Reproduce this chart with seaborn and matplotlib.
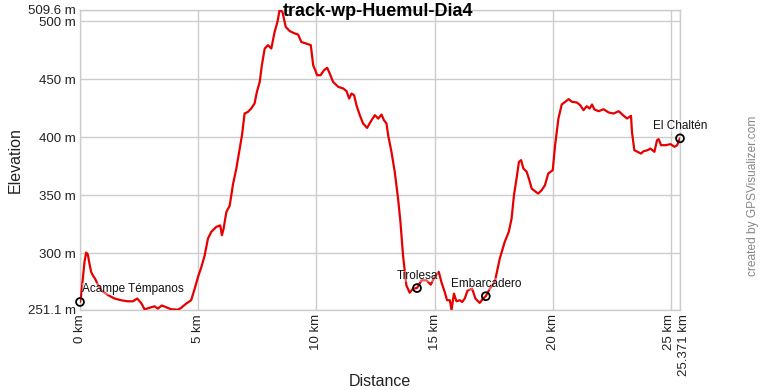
import matplotlib
matplotlib.use("Agg")
import matplotlib.pyplot as plt
import matplotlib.transforms as mtransforms
import seaborn as sns
import pandas as pd

# ---- data ----
dist_km = [0.0, 0.05, 0.19, 0.26, 0.33, 0.40, 0.47, 0.54, 0.64, 0.73, 0.90, 1.18, 1.46, 1.74,
           2.02, 2.24, 2.42, 2.59, 2.73, 2.94, 3.15, 3.29, 3.46, 3.65, 3.86, 4.14, 4.28, 4.49,
           4.70, 4.85, 4.99, 5.13, 5.27, 5.41, 5.55, 5.76, 5.93, 6.00, 6.07, 6.19, 6.33, 6.47,
           6.61, 6.75, 6.85, 6.96, 7.10, 7.24, 7.38, 7.48, 7.60, 7.69, 7.81, 7.95, 8.09, 8.23,
           8.35, 8.44, 8.56, 8.70, 8.87, 9.08, 9.22, 9.36, 9.57, 9.76, 9.86, 10.03, 10.17, 10.32,
           10.45, 10.56, 10.70, 10.92, 11.13, 11.27, 11.38, 11.48, 11.59, 11.69, 11.83, 11.97,
           12.14, 12.33, 12.47, 12.61, 12.75, 12.85, 12.96, 13.03, 13.17, 13.31, 13.45, 13.55,
           13.66, 13.80, 13.94, 14.08, 14.25, 14.44, 14.65, 14.83, 15.00, 15.17, 15.28, 15.42,
           15.52, 15.64, 15.71, 15.81, 15.92, 16.06, 16.16, 16.27, 16.39, 16.58, 16.72, 16.90,
           17.05, 17.16, 17.33, 17.54, 17.75, 17.96, 18.13, 18.25, 18.35, 18.46, 18.56, 18.65,
           18.75, 18.89, 19.00, 19.10, 19.37, 19.52, 19.66, 19.80, 19.99, 20.09, 20.23, 20.37,
           20.52, 20.66, 20.80, 21.01, 21.15, 21.29, 21.43, 21.55, 21.65, 21.75, 21.93, 22.14,
           22.35, 22.56, 22.78, 22.96, 23.13, 23.30, 23.34, 23.44, 23.58, 23.72, 23.83, 24.00,
           24.12, 24.29, 24.40, 24.47, 24.57, 24.76, 24.97, 25.14, 25.25, 25.371]
elev_m = [258.0, 264.0, 292.5, 300.6, 299.0, 291.0, 284.0, 281.0, 278.0, 274.0, 268.0, 264.0,
          261.0, 259.5, 258.6, 258.6, 261.0, 257.0, 251.7, 253.0, 254.3, 252.3, 255.0, 253.4,
          251.7, 251.4, 253.0, 256.6, 259.5, 269.5, 279.6, 288.0, 298.0, 312.6, 318.4, 322.7,
          324.0, 315.5, 321.0, 335.6, 341.0, 359.5, 373.0, 390.0, 401.7, 420.4, 421.8, 424.7,
          429.0, 439.0, 447.7, 462.0, 476.4, 479.3, 476.4, 490.8, 499.4, 509.6, 508.0, 495.0,
          491.4, 489.4, 488.5, 482.0, 480.7, 479.3, 462.0, 453.4, 453.4, 457.8, 459.8, 454.9,
          447.7, 443.4, 442.0, 439.7, 433.3, 437.6, 436.2, 427.6, 419.0, 411.8, 408.0, 414.7,
          419.0, 416.0, 419.5, 414.7, 411.8, 401.7, 387.4, 370.0, 347.0, 327.0, 298.0, 272.4,
          266.0, 269.5, 270.0, 276.7, 276.7, 273.0, 279.6, 284.0, 275.3, 266.7, 259.5, 259.5,
          251.1, 265.2, 258.6, 259.5, 258.0, 261.0, 268.0, 269.5, 261.0, 257.2, 261.0, 263.0,
          269.5, 275.3, 295.4, 309.8, 318.4, 329.9, 350.0, 364.4, 378.7, 380.2, 373.0, 370.1,
          363.0, 355.7, 351.4, 354.3, 358.6, 368.7, 371.6, 393.1, 416.1, 428.2, 430.5, 432.8,
          430.5, 429.9, 427.6, 423.3, 426.7, 424.7, 428.2, 423.9, 422.4, 424.1, 421.3, 420.4,
          422.4, 419.0, 416.1, 418.4, 404.6, 388.8, 387.4, 385.9, 387.9, 388.8, 390.2, 387.4,
          397.4, 398.3, 393.1, 393.1, 394.0, 391.7, 393.1, 399.0]

wp_names = ["Acampe Témpanos", "Tirolesa", "Embarcadero", "El Chaltén"]
wp_dist = [0.0, 14.25, 17.16, 25.371]
wp_elev = [258.0, 270.0, 263.0, 399.0]

x_ticks = [0, 5, 10, 15, 20, 25, 25.371]
x_labels = ["0 km", "5 km", "10 km", "15 km", "20 km", "25 km", "25.371 km"]
y_ticks = [251.1, 300, 350, 400, 450, 500, 509.6]
y_labels = ["251.1 m", "300 m", "350 m", "400 m", "450 m", "500 m", "509.6 m"]

title = "track-wp-Huemul-Dia4"

# ---- style ----
sns.set_style("white")
plt.rcParams["font.family"] = ["Liberation Sans", "DejaVu Sans"]

fig = plt.figure(figsize=(7.6, 3.9), dpi=100)
ax = fig.add_axes([80 / 760, 80 / 390, 600 / 760, 300 / 390])

df = pd.DataFrame({"dist": dist_km, "elev": elev_m})
sns.lineplot(data=df, x="dist", y="elev", sort=False, estimator=None,
             color="#e60000", linewidth=1.6, ax=ax, zorder=3)

wdf = pd.DataFrame({"dist": wp_dist, "elev": wp_elev, "name": wp_names})
sns.scatterplot(data=wdf, x="dist", y="elev", s=32, facecolor="none",
                edgecolor="black", linewidth=1.3, ax=ax, zorder=5, clip_on=False)

for name, xd, yd in zip(wp_names, wp_dist, wp_elev):
    ha = "left" if xd == 0 else "center"
    dx = 1.5 if xd == 0 else 0
    ax.annotate(name, (xd, yd), xytext=(dx, 9), textcoords="offset points",
                ha=ha, va="center", fontsize=8.5, color="#111111", zorder=6,
                bbox=dict(facecolor="white", alpha=0.35, edgecolor="none", pad=0))

ax.set_xlim(0, 25.371)
ax.set_ylim(251.1, 509.6)
ax.set_xticks(x_ticks)
ax.set_xticklabels(x_labels, rotation=90, fontsize=9.5)
ax.set_yticks(y_ticks)
ax.set_yticklabels(y_labels, fontsize=9.5)
ax.tick_params(axis="both", length=0, pad=3, colors="#222222")
ax.grid(True, color="#cccccc", linewidth=1)
for s in ax.spines.values():
    s.set_color("#cccccc")
    s.set_linewidth(1)
ax.set_xlabel("")
ax.set_ylabel("")

# nudge the two crowded end labels apart a little, as in the reference
xl = ax.get_xticklabels()
xl[-2].set_transform(xl[-2].get_transform() +
                     mtransforms.ScaledTranslation(-2 / 100, 0, fig.dpi_scale_trans))
xl[-1].set_transform(xl[-1].get_transform() +
                     mtransforms.ScaledTranslation(4 / 100, 0, fig.dpi_scale_trans))

fig.text(15 / 760, 1 - 160 / 390, "Elevation", rotation=90, ha="center", va="center",
         fontsize=11.5, color="#222222")
fig.text(380 / 760, 1 - 382 / 390, "Distance", ha="center", va="center",
         fontsize=11.5, color="#222222")
fig.text(378 / 760, 1 - 12 / 390, title, ha="center", va="center",
         fontsize=13, fontweight="bold", color="black")
fig.text(753 / 760, 1 - 196 / 390, "created by GPSVisualizer.com", rotation=90,
         ha="center", va="center", fontsize=8.6, color="#888888")

fig.savefig("out.png", dpi=100)
